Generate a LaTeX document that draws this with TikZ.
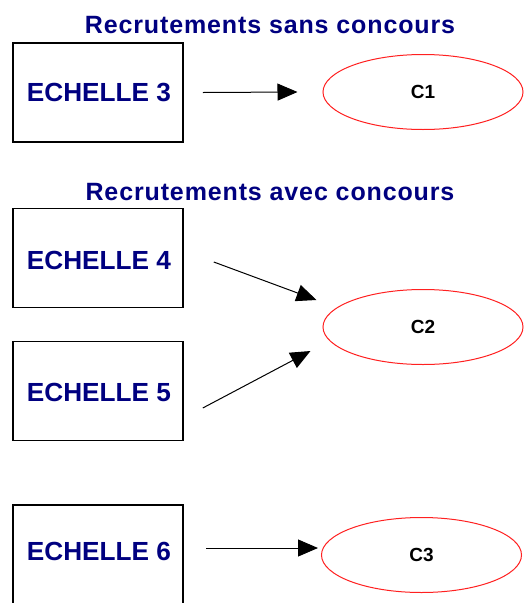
\documentclass[tikz,border=0pt]{standalone}
\usepackage{fontspec}
\setmainfont{Liberation Sans}
\usetikzlibrary{arrows.meta,calc,shapes.geometric}
\definecolor{navy}{HTML}{000080}
\definecolor{ered}{HTML}{FF2020}
\tikzset{
  titletext/.style={font=\bfseries\addfontfeature{LetterSpace=3.5}\fontsize{25}{30}\selectfont, text=navy, inner sep=0pt},
  echbox/.style={draw=black, line width=1.6pt, minimum width=170pt, minimum height=99pt, inner sep=0pt},
  echtext/.style={font=\bfseries\fontsize{26.2}{30}\selectfont, text=navy, inner sep=0pt},
  cell/.style={draw=ered, line width=1pt, ellipse, minimum width=200pt, minimum height=75pt, inner sep=0pt, font=\bfseries\fontsize{19}{23}\selectfont},
  arr/.style={draw=black, line width=1pt, -{Triangle[length=20pt,width=17pt]}}
}
\begin{document}
\begin{tikzpicture}[x=1pt,y=-1pt]
\useasboundingbox (0,0) rectangle (525,603);
\fill[white] (0,0) rectangle (525,603);
\node[titletext] (t1) at (270,25) {Recrutements sans concours};
\node[titletext] (t2) at (270,192) {Recrutements avec concours};
\node[echbox] (e3) at (98,92.5) {};
\node[echtext] (e3t) at (99,92) {ECHELLE 3};
\node[echbox] (e4) at (98,258) {};
\node[echtext] (e4t) at (99,260) {ECHELLE 4};
\node[echbox] (e5) at (98,391) {};
\node[echtext] (e5t) at (99,392) {ECHELLE 5};
\node[echbox, minimum height=115pt] (e6) at (98,562.5) {};
\node[echtext] (e6t) at (99,551) {ECHELLE 6};
\node[cell] (c1) at (423,92) {C1};
\node[cell] (c2) at (423,327) {C2};
\node[cell] (c3) at (421.5,555) {C3};
\draw[arr] ($(e3.east)+(19,0)$) -- ($(c1.west)+(-25,0)$);
\draw[arr] ($(e4.east)+(30,4)$) -- ($(c2.west)+(-6,-27)$);
\draw[arr] ($(e5.east)+(19,17)$) -- ($(c2.west)+(-12,24)$);
\draw[arr] ($(e6t.east)+(35,-3)$) -- ($(c3.west)+(-3,-7)$);
\end{tikzpicture}
\end{document}
